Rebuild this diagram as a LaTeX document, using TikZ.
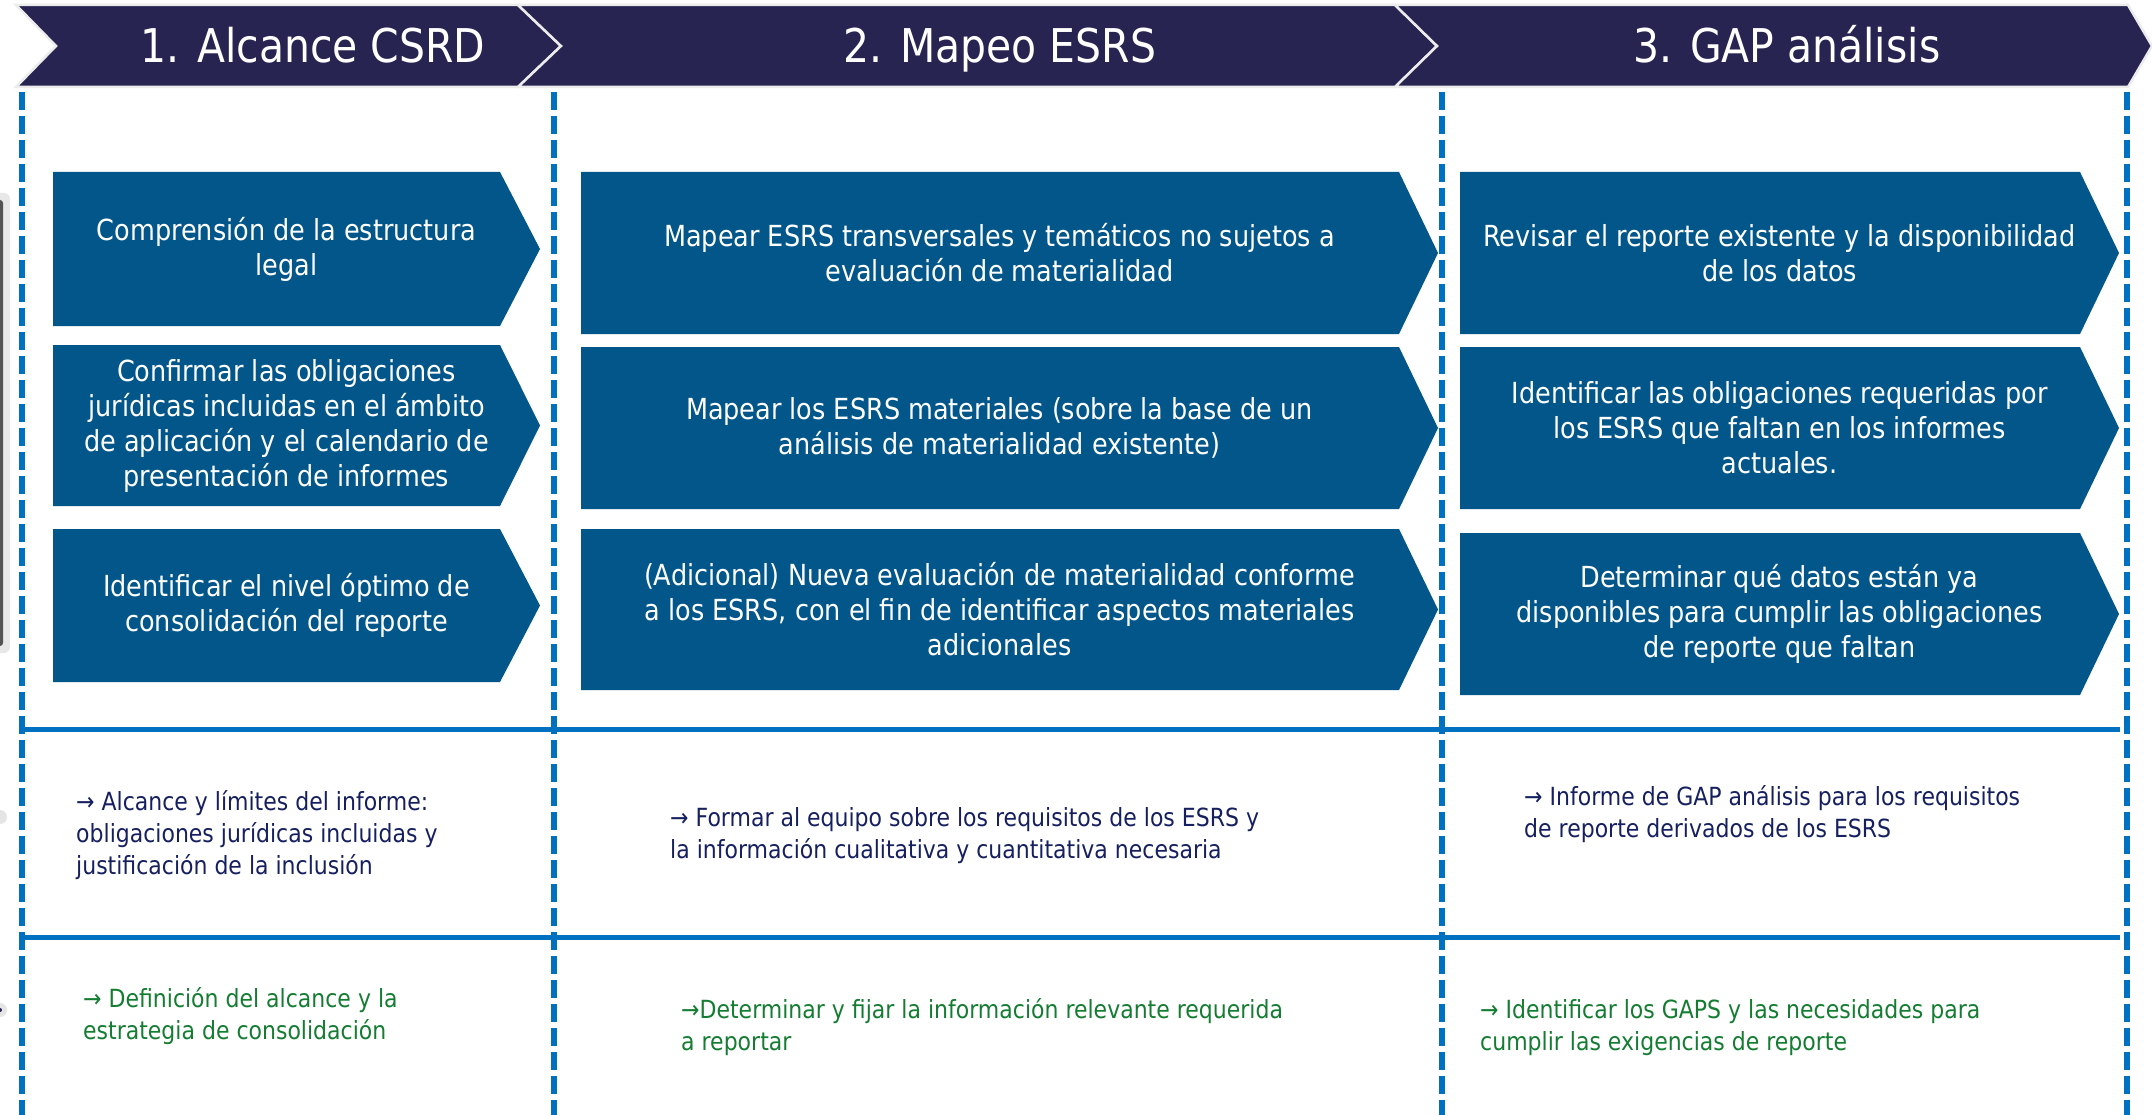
\documentclass[tikz,border=0pt]{standalone}
\usepackage{fontspec}
\setmainfont{DejaVu Sans}[FakeStretch=0.88]
\definecolor{navy}{RGB}{40,36,82}
\definecolor{boxblue}{RGB}{2,86,138}
\definecolor{lineblue}{RGB}{0,112,192}
\definecolor{darktext}{RGB}{22,32,96}
\definecolor{greentext}{RGB}{20,125,50}
\newcommand\chevshape[5]{\fill[boxblue] (#1,#4) -- (#2,#4) -- (#3,{(#4+#5)/2}) -- (#2,#5) -- (#1,#5) -- cycle;}
\tikzset{
  hdr/.style={text=white, font=\fontsize{46.5}{50}\selectfont, anchor=base, inner sep=0pt},
  boxtext/.style={text=white, align=center, font=\fontsize{29}{35}\selectfont, inner sep=0pt},
  outA/.style={text=darktext, align=left, anchor=west, font=\fontsize{25}{32}\selectfont, inner sep=0pt},
  outB/.style={outA, text=greentext},
  vsep/.style={draw=lineblue, line width=6pt, dash pattern=on 18pt off 6pt},
  hsep/.style={draw=lineblue, line width=5pt},
  banner/.style={fill=navy, draw=gray!15, line width=2.5pt, line join=miter},
}
\begin{document}
\begin{tikzpicture}[x=1pt,y=-1pt]
\useasboundingbox (0,0) rectangle (2152,1115);
\fill[white] (0,0) rectangle (2152,1115);
% left edge fragments
\fill[gray!18, rounded corners=6pt] (-10,193) rectangle (10,653);
\fill[gray!65!black, rounded corners=3pt] (-10,200) rectangle (3,646);
\fill[gray!20] (0,817) circle (7);
\fill[gray!20] (0,1010) circle (7);
\fill[navy] (0,1010) circle (2);
% banner
\path[banner] (16,5) -- (518,5) -- (561,46) -- (518,87) -- (16,87) -- (56,46) -- cycle;
\path[banner] (518,5) -- (1395,5) -- (1437,46) -- (1395,87) -- (518,87) -- (561,46) -- cycle;
\path[banner] (1395,5) -- (2128,5) -- (2152,46) -- (2128,87) -- (1395,87) -- (1437,46) -- cycle;
\node[hdr] (h1) at (313,63) {1. Alcance CSRD};
\node[hdr] (h2) at (1000,63) {2. Mapeo ESRS};
\node[hdr] (h3) at (1787,63) {3. GAP análisis};
% dashed column lines
\foreach \xx in {22,554,1442,2127} { \draw[vsep] (\xx,92) -- (\xx,1115); }
% horizontal lines
\draw[hsep] (20,729) -- (2120,729);
\draw[hsep] (20,937) -- (2120,937);
% boxes column 1
\chevshape{53}{500}{540}{172}{326}
\chevshape{53}{500}{540}{345}{506}
\chevshape{53}{500}{540}{529}{682}
% boxes column 2
\chevshape{581}{1399}{1438}{172}{334}
\chevshape{581}{1399}{1438}{347}{509}
\chevshape{581}{1399}{1438}{529}{690}
% boxes column 3
\chevshape{1460}{2080}{2119}{172}{334}
\chevshape{1460}{2080}{2119}{347}{509}
\chevshape{1460}{2080}{2119}{533}{695}
% box texts
\node[boxtext] (a1) at (286.5,249) {Comprensión de la estructura\\legal};
\node[boxtext] (a2) at (286.5,425.5) {Confirmar las obligaciones\\jurídicas incluidas en el ámbito\\de aplicación y el calendario de\\presentación de informes};
\node[boxtext] (a3) at (286.5,605.5) {Identificar el nivel óptimo de\\consolidación del reporte};
\node[boxtext] (b1) at (999.5,253) {Mapear ESRS transversales y temáticos no sujetos a\\evaluación de materialidad};
\node[boxtext] (b2) at (999.5,428) {Mapear los ESRS materiales (sobre la base de un\\análisis de materialidad existente)};
\node[boxtext] (b3) at (999.5,609.5) {(Adicional) Nueva evaluación de materialidad conforme\\a los ESRS, con el fin de identificar aspectos materiales\\adicionales};
\node[boxtext] (c1) at (1779.5,253) {Revisar el reporte existente y la disponibilidad\\de los datos};
\node[boxtext] (c2) at (1779.5,428) {Identificar las obligaciones requeridas por\\los ESRS que faltan en los informes\\actuales.};
\node[boxtext] (c3) at (1779.5,614) {Determinar qué datos están ya\\disponibles para cumplir las obligaciones\\de reporte que faltan};
% outputs row 1
\node[outA] (d1) at (76,835) {→ Alcance y límites del informe:\\obligaciones jurídicas incluidas y\\justificación de la inclusión};
\node[outA] (d2) at (670,836) {→ Formar al equipo sobre los requisitos de los ESRS y\\la información cualitativa y cuantitativa necesaria};
\node[outA] (d3) at (1524,814) {→ Informe de GAP análisis para los requisitos\\de reporte derivados de los ESRS};
% outputs row 2
\node[outB] (e1) at (83,1016) {→ Definición del alcance y la\\estrategia de consolidación};
\node[outB] (e2) at (681,1027.5) {→Determinar y fijar la información relevante requerida\\a reportar};
\node[outB] (e3) at (1480,1027.5) {→ Identificar los GAPS y las necesidades para\\cumplir las exigencias de reporte};
\end{tikzpicture}
\end{document}
